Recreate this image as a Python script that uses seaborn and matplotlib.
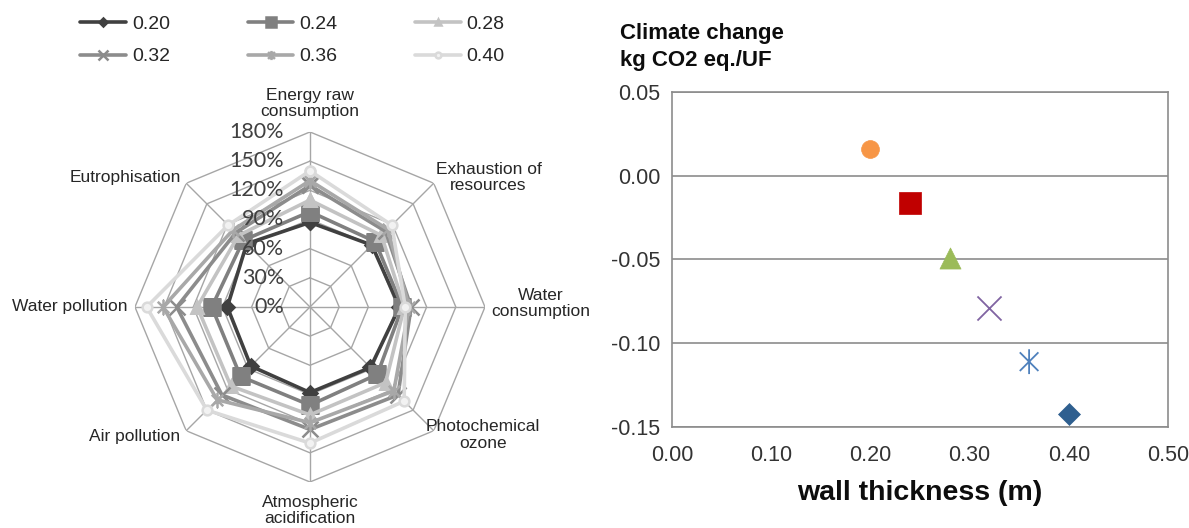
import numpy as np
import pandas as pd
import matplotlib
matplotlib.use('Agg')
import matplotlib.pyplot as plt
from matplotlib.path import Path
from matplotlib.transforms import offset_copy
import seaborn as sns

# radar data (% of reference), clockwise from the top axis
categories = ['Energy raw\nconsumption', 'Exhaustion of\nresources', 'Water\nconsumption',
              'Photochemical\nozone', 'Atmospheric\nacidification', 'Air pollution',
              'Water pollution', 'Eutrophisation']
thickness = ['0.20', '0.24', '0.28', '0.32', '0.36', '0.40']
v020 = [87, 90, 92, 88, 88, 86, 85, 92]
v024 = [98, 95, 95, 98, 101, 101, 101, 97]
v028 = [110, 104, 97, 110, 111, 115, 116, 104]
v032 = [125, 110, 104, 128, 126, 128, 137, 108]
v036 = [130, 113, 102, 122, 119, 135, 151, 112]
v040 = [140, 119, 98, 137, 140, 150, 168, 119]
radar_levels = [0, 30, 60, 90, 120, 150, 180]
radar_labels = ['0%', '30%', '60%', '90%', '120%', '150%', '180%']

# climate change scatter
wall = [0.20, 0.24, 0.28, 0.32, 0.36, 0.40]
climate = [0.016, -0.016, -0.049, -0.079, -0.111, -0.142]

sns.set_style('white')
plt.rcParams['font.family'] = ['Liberation Sans', 'DejaVu Sans']

# Excel-like star: vertical bar + x
star = Path([(0, -1), (0, 1), (-0.75, -0.75), (0.75, 0.75), (-0.75, 0.75), (0.75, -0.75)],
            [Path.MOVETO, Path.LINETO, Path.MOVETO, Path.LINETO, Path.MOVETO, Path.LINETO])

fig = plt.figure(figsize=(11.89, 5.28), dpi=100)

# ---------------- radar ----------------
ax = fig.add_axes([0.1135, 0.0871, 0.2944, 0.663], projection='polar')
ax.set_theta_zero_location('N')
ax.set_theta_direction(-1)
angles = np.linspace(0, 2 * np.pi, len(categories), endpoint=False)
ang_closed = np.append(angles, angles[0] + 2 * np.pi)

grid_col = '#a6a6a6'
for lv in radar_levels[1:]:
    ax.plot(ang_closed, [lv] * len(ang_closed), color=grid_col, lw=1.0, zorder=1)
for a in angles:
    ax.plot([a, a], [0, radar_levels[-1]], color=grid_col, lw=1.0, zorder=1)

series = [v020, v024, v028, v032, v036, v040]
line_cols = ['#404040', '#808080', '#c3c3c3', '#8c8c8c', '#a8a8a8', '#dadada']
markers = ['D', 's', '^', 'x', star, 'o']
msizes = [7, 11, 8, 11, 11, 7]
for lab, vals, c, m, ms in zip(thickness, series, line_cols, markers, msizes):
    vc = list(vals) + [vals[0]]
    sns.lineplot(x=ang_closed, y=vc, sort=False, estimator=None, ax=ax, color=c, lw=2.6,
                 marker=m, markersize=ms, markeredgecolor=c, markeredgewidth=1.8,
                 markerfacecolor=('#f2f2f2' if isinstance(m, str) and m == 'o' else c),
                 label=lab, zorder=3)

ax.set_ylim(0, radar_levels[-1])
ax.set_xticks(angles)
ax.set_xticklabels([])
ax.set_yticks([])
ax.grid(False)
ax.spines['polar'].set_visible(False)
ax.set_xlabel('')
ax.set_ylabel('')
handles, labels = ax.get_legend_handles_labels()
ax.get_legend().remove()

tr = offset_copy(ax.transData, fig=fig, x=-26, y=0, units='dots')
for lv, lab in zip(radar_levels, radar_labels):
    ax.text(0, lv, lab, transform=tr, ha='right', va='center', fontsize=15.5,
            color='#404040', family=['Lato', 'DejaVu Sans'])

lab_pos = [(0.5, 1.082, 'center'), (1.01, 0.869, 'center'), (1.16, 0.51, 'center'),
           (0.995, 0.134, 'center'), (0.5, -0.082, 'center'), (0.129, 0.129, 'right'),
           (-0.02, 0.5, 'right'), (0.131, 0.871, 'right')]
for cat, (px, py, ha) in zip(categories, lab_pos):
    ax.text(px, py, cat, transform=ax.transAxes, ha=ha, va='center', fontsize=12.5,
            color='#262626', multialignment='center', linespacing=1.1)

# legend fills row-wise in the reference
order = [0, 3, 1, 4, 2, 5]
fig.legend([handles[i] for i in order], [labels[i] for i in order], loc='upper left',
           bbox_to_anchor=(0.0595, 0.989), ncol=3, frameon=False, fontsize=14,
           handlelength=2.35, handletextpad=0.3, columnspacing=4.0, labelspacing=0.75,
           borderpad=0, markerscale=0.6)

# ---------------- scatter ----------------
ax2 = fig.add_axes([0.5652, 0.1913, 0.4171, 0.6345])
pt_cols = ['#f79646', '#c00000', '#9bbb59', '#8064a2', '#4f81bd', '#2f5f8f']
pt_marks = ['o', 's', '^', 'x', star, 'D']
pt_sizes = [165, 230, 230, 300, 320, 125]
for x, y, c, m, s in zip(wall, climate, pt_cols, pt_marks, pt_sizes):
    if isinstance(m, str) and m == 'x':
        sns.scatterplot(x=[x], y=[y], ax=ax2, marker=m, s=s, color=c, linewidth=1.3, zorder=3)
    elif not isinstance(m, str):
        sns.scatterplot(x=[x], y=[y], ax=ax2, marker=m, s=s, color=c, edgecolor=c,
                        facecolor='none', linewidth=1.3, zorder=3)
    else:
        sns.scatterplot(x=[x], y=[y], ax=ax2, marker=m, s=s, color=c, edgecolor=c,
                        linewidth=0.5, zorder=3)

ax2.set_xlim(0, 0.5)
ax2.set_ylim(-0.15, 0.05)
ax2.set_xticks(np.arange(0, 0.51, 0.1))
ax2.set_yticks(np.arange(-0.15, 0.051, 0.05))
ax2.set_xticklabels([f'{t:.2f}' for t in np.arange(0, 0.51, 0.1)])
ax2.set_yticklabels([f'{t:.2f}' for t in np.arange(-0.15, 0.051, 0.05)])
ax2.yaxis.grid(True, color='#8c8c8c', lw=1.2)
ax2.xaxis.grid(False)
for sp in ax2.spines.values():
    sp.set_color('#8c8c8c')
    sp.set_linewidth(1.2)
ax2.tick_params(axis='both', direction='out', length=5, width=1.2, color='#8c8c8c',
                labelsize=15.5, labelcolor='#333333')
ax2.tick_params(axis='x', pad=8)
ax2.set_xlabel('')
ax2.set_ylabel('')

fig.text(920 / 1189, 1 - 493 / 528, 'wall thickness (m)', ha='center', va='center',
         fontsize=20.5, fontweight='bold', color='#0d0d0d')
fig.text(620 / 1189, 1 - 47 / 528, 'Climate change\nkg CO2 eq./UF', ha='left', va='center',
         fontsize=16, fontweight='bold', color='#0d0d0d', linespacing=1.35)

fig.savefig('out.png', dpi=100)
